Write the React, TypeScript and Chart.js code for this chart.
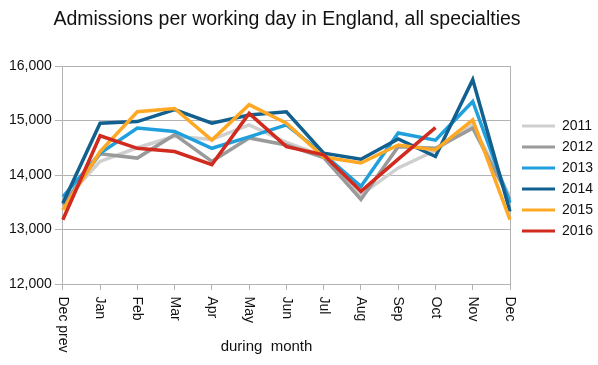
import { useEffect, useRef } from 'react';
import { Chart, registerables } from 'chart.js';

Chart.register(...registerables);

const TITLE = 'Admissions per working day in England, all specialties';
const X_TITLE = 'during  month';
const MONTHS = ['Dec prev', 'Jan', 'Feb', 'Mar', 'Apr', 'May', 'Jun', 'Jul', 'Aug', 'Sep', 'Oct', 'Nov', 'Dec'];
const YEARS = ['2011', '2012', '2013', '2014', '2015', '2016'];
const COLORS = ['#cfcfcf', '#9a9a9a', '#1fa0dd', '#11608f', '#ffa823', '#d12a1f'];

const Y2011 = [13500, 14250, 14500, 14710, 14650, 14920, 14600, 14350, 13640, 14130, 14450, 14920, 13600];
const Y2012 = [13450, 14390, 14310, 14740, 14250, 14680, 14550, 14320, 13550, 14520, 14490, 14860, 13550];
const Y2013 = [13600, 14400, 14860, 14800, 14490, 14700, 14920, 14380, 13790, 14770, 14640, 15350, 13490];
const Y2014 = [13480, 14950, 14980, 15200, 14950, 15100, 15160, 14400, 14290, 14660, 14340, 15750, 13330];
const Y2015 = [13360, 14430, 15160, 15220, 14640, 15290, 14950, 14330, 14220, 14550, 14460, 15010, 13180];
const Y2016 = [13180, 14720, 14490, 14430, 14190, 15130, 14520, 14370, 13700, 14290, 14870, null, null];
const SERIES = [Y2011, Y2012, Y2013, Y2014, Y2015, Y2016];

const Y_MIN = 12000;
const Y_MAX = 16000;
const Y_STEP = 1000;

const FONT = '"Liberation Sans", Arial, Helvetica, sans-serif';
const TEXT = '#111111';
const GRID = '#b3b3b3';

const textPlugin = {
  id: 'customText',
  afterDraw(chart: any) {
    const { ctx, scales } = chart;
    const x = scales.x;
    ctx.save();
    ctx.fillStyle = TEXT;
    ctx.font = `19.5px ${FONT}`;
    ctx.textAlign = 'center';
    ctx.textBaseline = 'middle';
    ctx.fillText(TITLE, 287, 20);

    ctx.font = `14px ${FONT}`;
    MONTHS.forEach((m, i) => {
      const px = x.getPixelForValue(i);
      ctx.save();
      ctx.translate(px, x.top + 12.5);
      ctx.rotate(Math.PI / 2);
      ctx.textAlign = 'left';
      ctx.textBaseline = 'middle';
      ctx.fillText(m, 0, 0);
      ctx.restore();
    });

    ctx.font = `15px ${FONT}`;
    ctx.textAlign = 'center';
    ctx.textBaseline = 'middle';
    ctx.fillText(X_TITLE, 266.5, 347);
    ctx.restore();
  },
};

export default function App() {
  const ref = useRef<HTMLCanvasElement | null>(null);

  useEffect(() => {
    if (!ref.current) return;
    const chart = new Chart(ref.current, {
      type: 'line',
      data: {
        labels: MONTHS,
        datasets: YEARS.map((y, i) => ({
          label: y,
          data: SERIES[i],
          borderColor: COLORS[i],
          backgroundColor: COLORS[i],
          borderWidth: 3.5,
          pointRadius: 0,
          pointHoverRadius: 0,
          fill: false,
          tension: 0,
          spanGaps: false,
          order: YEARS.length - 1 - i,
        })),
      },
      options: {
        responsive: false,
        animation: false,
        devicePixelRatio: 1,
        layout: { padding: { top: 66, left: 6, right: 0, bottom: 75 } },
        plugins: {
          title: { display: false },
          tooltip: { enabled: false },
          legend: {
            position: 'right',
            align: 'center',
            fullSize: false,
            maxWidth: 83,
            title: { display: true, text: '', font: { size: 1 }, padding: { top: 6, bottom: 0 } },
            labels: {
              boxWidth: 33,
              boxHeight: 3,
              padding: 7,
              color: TEXT,
              font: { size: 14, family: FONT },
              generateLabels: (c: any) =>
                Chart.defaults.plugins.legend.labels
                  .generateLabels(c)
                  .map((l: any) => ({ ...l, lineWidth: 0, fillStyle: l.strokeStyle })),
              sort: (a: any, b: any) => a.datasetIndex - b.datasetIndex,
            },
          },
        },
        scales: {
          x: {
            type: 'category',
            offset: false,
            ticks: { display: false },
            grid: {
              drawOnChartArea: false,
              tickLength: 6,
              tickColor: GRID,
              color: GRID,
            },
            border: { color: GRID, width: 1 },
          },
          y: {
            min: Y_MIN,
            max: Y_MAX,
            ticks: {
              stepSize: Y_STEP,
              padding: 3,
              color: TEXT,
              font: { size: 14, family: FONT },
              callback: (v: any) => Number(v).toLocaleString('en-US'),
            },
            grid: { color: GRID, tickLength: 8, lineWidth: 1 },
            border: { color: GRID, width: 1 },
          },
          y2: {
            position: 'right',
            min: Y_MIN,
            max: Y_MAX,
            ticks: { display: false },
            grid: { drawOnChartArea: false, tickLength: 5, tickColor: 'rgba(0,0,0,0)' },
            border: { color: GRID, width: 1 },
          },
        },
      },
      plugins: [textPlugin],
    });
    return () => chart.destroy();
  }, []);

  return (
    <div style={{ position: 'fixed', left: 0, top: 0, width: 598, height: 365, background: '#fff' }}>
      <canvas ref={ref} width={598} height={365} />
    </div>
  );
}
